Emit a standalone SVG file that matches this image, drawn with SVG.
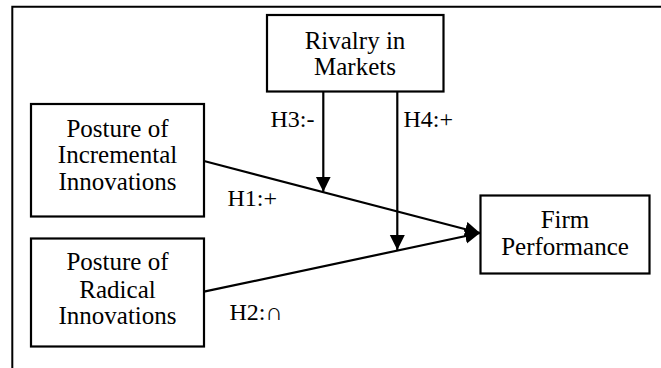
<svg xmlns="http://www.w3.org/2000/svg" width="661" height="368" viewBox="0 0 661 368">
<style>
.box{fill:#fff;stroke:#000;stroke-width:2.2}
.t{font-family:"Liberation Serif","Times New Roman",serif;font-size:25px;fill:#000;text-anchor:middle}
.l{font-family:"Liberation Serif","Times New Roman",serif;font-size:24px;fill:#000}
.c{fill:none;stroke:#000;stroke-width:2.2}
</style>
<defs>
<marker id="ah" markerUnits="userSpaceOnUse" markerWidth="16" markerHeight="16" refX="15" refY="7.5" orient="auto">
<path d="M0,0 L15,7.5 L0,15 z" fill="#000"/>
</marker>
</defs>
<rect width="661" height="368" fill="#fff"/>
<path d="M12.3,368 V6.8 H661" fill="none" stroke="#000" stroke-width="2"/>
<g id="rivalry">
<rect class="box" x="267" y="15" width="176.5" height="76.5"/>
<text class="t" x="355" y="48.5">Rivalry in</text>
<text class="t" x="355" y="74.5">Markets</text>
</g>
<g id="incremental">
<rect class="box" x="31" y="104" width="173" height="112.5"/>
<text class="t" x="117.5" y="136.7">Posture of</text>
<text class="t" x="117.5" y="163">Incremental</text>
<text class="t" x="117.5" y="189.5">Innovations</text>
</g>
<g id="radical">
<rect class="box" x="31" y="238.5" width="173" height="108"/>
<text class="t" x="117.5" y="270">Posture of</text>
<text class="t" x="117.5" y="297.5">Radical</text>
<text class="t" x="117.5" y="324">Innovations</text>
</g>
<g id="firm">
<rect class="box" x="480.5" y="195.5" width="169" height="78"/>
<text class="t" x="565" y="227.7">Firm</text>
<text class="t" x="565" y="255">Performance</text>
</g>
<g id="connectors">
<path class="c" d="M204,161 L480,233" marker-end="url(#ah)"/>
<path class="c" d="M204,291.7 L480,233" marker-end="url(#ah)"/>
<path class="c" d="M323.3,91.7 V191.7" marker-end="url(#ah)"/>
<path class="c" d="M397.3,91.7 V250" marker-end="url(#ah)"/>
<text class="l" x="270.5" y="126.5">H3:-</text>
<text class="l" x="403.5" y="126.5">H4:+</text>
<text class="l" x="227.5" y="206">H1:+</text>
<text class="l" x="229.5" y="320">H2:∩</text>
</g>
</svg>
